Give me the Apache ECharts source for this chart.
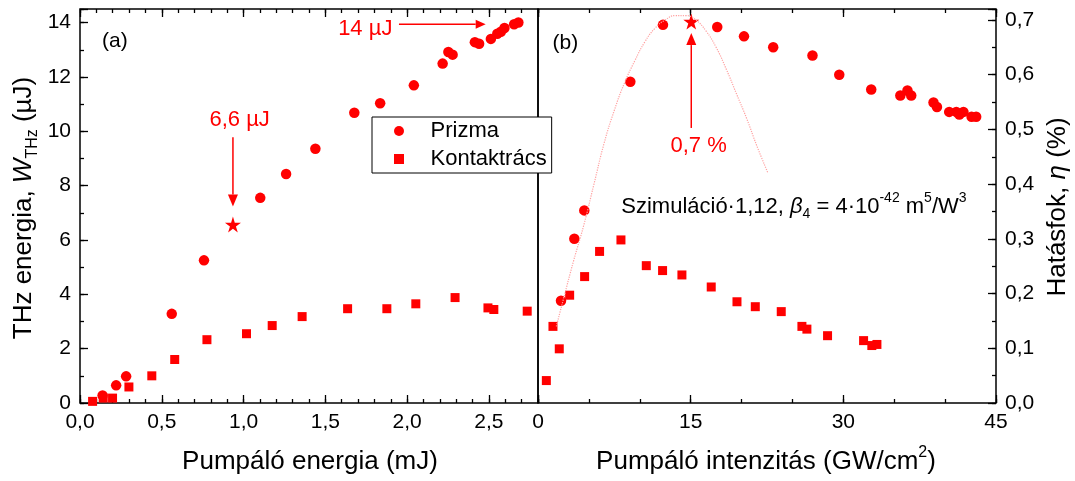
<!DOCTYPE html>
<html lang="hu">
<head>
<meta charset="UTF-8">
<title>THz energia és hatásfok</title>
<style>
  html, body { margin: 0; padding: 0; background: #fff; }
  #chart { width: 1075px; height: 481px; }
</style>
</head>
<body>
<div id="chart"></div>
<script src="https://cdn.jsdelivr.net/npm/echarts@6/dist/echarts.min.js"></script>
<script>
  // (a) pumpáló energia (mJ) -> THz energia (µJ)
  const prizmaEnergy = [0.138, 0.221, 0.282, 0.561, 0.758, 1.102, 1.26, 1.439, 1.677, 1.835, 2.041, 2.217, 2.252, 2.278, 2.414, 2.44, 2.512, 2.551, 2.573, 2.595, 2.654, 2.68];
  const prizmaTHz    = [0.28, 0.65, 0.98, 3.28, 5.25, 7.55, 8.43, 9.36, 10.68, 11.03, 11.69, 12.49, 12.92, 12.82, 13.28, 13.22, 13.4, 13.59, 13.66, 13.8, 13.94, 14.0];
  const kontaktEnergy = [0.077, 0.142, 0.199, 0.299, 0.439, 0.579, 0.776, 1.018, 1.175, 1.358, 1.636, 1.876, 2.053, 2.293, 2.494, 2.53, 2.734];
  const kontaktTHz    = [0.06, 0.18, 0.18, 0.59, 1.0, 1.6, 2.33, 2.55, 2.85, 3.18, 3.47, 3.47, 3.65, 3.88, 3.5, 3.44, 3.38];
  const starA = [0.935, 6.57];

  // (b) pumpáló intenzitás (GW/cm2) -> hatásfok (%)
  const prizmaInt = [2.26, 3.57, 4.55, 9.07, 12.28, 17.61, 20.24, 23.11, 26.97, 29.6, 32.74, 35.6, 36.3, 36.67, 38.86, 39.2, 40.4, 41.1, 41.4, 41.8, 42.6, 43.05];
  const prizmaEta = [0.187, 0.300, 0.352, 0.587, 0.691, 0.687, 0.670, 0.650, 0.635, 0.600, 0.573, 0.562, 0.571, 0.562, 0.549, 0.541, 0.532, 0.532, 0.527, 0.532, 0.523, 0.523];
  const kontaktInt = [0.82, 1.47, 2.09, 3.11, 4.58, 6.05, 8.15, 10.64, 12.24, 14.14, 17.02, 19.55, 21.35, 23.9, 25.93, 26.42, 28.45, 31.99, 32.8, 33.3];
  const kontaktEta = [0.041, 0.140, 0.099, 0.197, 0.231, 0.277, 0.298, 0.251, 0.242, 0.234, 0.212, 0.185, 0.176, 0.167, 0.140, 0.135, 0.123, 0.114, 0.105, 0.107];
  const starB = [15.06, 0.697];

  // szimuláció (pontozott görbe)
  const simInt = [1.8, 2.5, 3.5, 4.5, 5.5, 6.5, 7.5, 8.5, 9.5, 10.5, 11.5, 12.5, 13.5, 14.5, 15.5, 16.5, 17.5, 18.5, 19.5, 20.5, 21.5, 22.6];
  const simEta = [0.14, 0.19, 0.26, 0.325, 0.40, 0.475, 0.535, 0.585, 0.625, 0.66, 0.685, 0.70, 0.708, 0.708, 0.70, 0.68, 0.65, 0.61, 0.565, 0.52, 0.47, 0.42];

  const FONT = 'Liberation Sans, Arial, sans-serif';
  const RED = '#ff0000';
  const STAR = 'path://M50,0 L61,35 L98,35 L68,57 L79,91 L50,70 L21,91 L32,57 L2,35 L39,35 Z';
  const SQUARE = 'path://M0,0 L10,0 L10,10 L0,10 Z';

  const zip = (a, b) => a.map((v, i) => [v, b[i]]);
  const isMult = (v, s) => Math.abs(v / s - Math.round(v / s)) < 1e-6;

  function axis(grid, pos, min, max, step, tickLen, fmt) {
    return {
      type: 'value', gridIndex: grid, position: pos, min: min, max: max, interval: step,
      axisLine: { show: false, onZero: false },
      splitLine: { show: false },
      axisTick: { show: true, inside: true, length: tickLen, lineStyle: { color: '#000', width: 1.3 } },
      axisLabel: fmt ? { show: true, formatter: fmt, color: '#000', fontSize: 21, fontFamily: FONT, margin: 9 }
                     : { show: false }
    };
  }

  const chart = echarts.init(document.getElementById('chart'));

  const dot = { color: RED, opacity: 1 };

  chart.setOption({
    animation: false,
    backgroundColor: '#fff',
    grid: [
      { left: 80, top: 9, width: 458, height: 394, show: true, borderColor: '#000', borderWidth: 1.5, backgroundColor: 'transparent' },
      { left: 538, top: 9, width: 458, height: 394, show: true, borderColor: '#000', borderWidth: 1.5, backgroundColor: 'transparent' }
    ],
    xAxis: [
      axis(0, 'bottom', 0, 2.8, 0.5, 8, v => isMult(v, 0.5) ? v.toFixed(1).replace('.', ',') : ''),
      axis(0, 'bottom', 0, 2.8, 0.1, 4),
      axis(0, 'top', 0, 2.8, 0.5, 8),
      axis(0, 'top', 0, 2.8, 0.1, 4),
      axis(1, 'bottom', 0, 45, 15, 8, v => String(Math.round(v))),
      axis(1, 'bottom', 0, 45, 5, 4),
      axis(1, 'top', 0, 45, 15, 8),
      axis(1, 'top', 0, 45, 5, 4)
    ],
    yAxis: [
      axis(0, 'left', 0, 14.5, 2, 8, v => isMult(v, 2) ? String(Math.round(v)) : ''),
      axis(0, 'left', 0, 14.5, 1, 4),
      axis(1, 'right', 0, 0.72, 0.1, 8, v => isMult(v, 0.1) ? v.toFixed(1).replace('.', ',') : ''),
      axis(1, 'right', 0, 0.72, 0.05, 4)
    ],
    legend: {
      data: [{ name: 'Prizma', icon: 'circle' }, { name: 'Kontaktrács', icon: SQUARE }],
      orient: 'vertical', left: 372, top: 117,
      itemWidth: 11, itemHeight: 10, itemGap: 6,
      padding: [3, 5, 3, 22],
      symbolKeepAspect: true,
      borderColor: '#000', borderWidth: 1, backgroundColor: '#fff',
      selectedMode: false,
      itemStyle: { opacity: 1 },
      textStyle: { color: '#000', fontSize: 22, fontFamily: FONT, lineHeight: 22, padding: [0, 0, 0, 21] }
    },
    series: [
      { name: 'Prizma', type: 'scatter', xAxisIndex: 0, yAxisIndex: 0, symbol: 'circle', symbolSize: 10.5,
        itemStyle: dot, data: zip(prizmaEnergy, prizmaTHz) },
      { name: 'Kontaktrács', type: 'scatter', xAxisIndex: 0, yAxisIndex: 0, symbol: 'rect', symbolSize: 9,
        itemStyle: dot, data: zip(kontaktEnergy, kontaktTHz) },
      { name: 'max_a', type: 'scatter', xAxisIndex: 0, yAxisIndex: 0, symbol: STAR, symbolSize: 16,
        itemStyle: dot, data: [starA] },
      { name: 'Szimuláció', type: 'line', xAxisIndex: 4, yAxisIndex: 2, smooth: true, showSymbol: false,
        lineStyle: { color: '#ffa0a0', width: 1.2, type: 'dotted' }, data: zip(simInt, simEta) },
      { name: 'Prizma', type: 'scatter', xAxisIndex: 4, yAxisIndex: 2, symbol: 'circle', symbolSize: 10.5,
        itemStyle: dot, data: zip(prizmaInt, prizmaEta) },
      { name: 'Kontaktrács', type: 'scatter', xAxisIndex: 4, yAxisIndex: 2, symbol: 'rect', symbolSize: 9,
        itemStyle: dot, data: zip(kontaktInt, kontaktEta) },
      { name: 'max_b', type: 'scatter', xAxisIndex: 4, yAxisIndex: 2, symbol: STAR, symbolSize: 16,
        itemStyle: dot, data: [starB] }
    ]
  });

  // feliratok, nyilak (adat koordinátákban)
  const pa = p => chart.convertToPixel({ xAxisIndex: 0, yAxisIndex: 0 }, p);
  const pb = p => chart.convertToPixel({ xAxisIndex: 4, yAxisIndex: 2 }, p);

  function arrow(p0, p1, headLen, headW) {
    const dx = p1[0] - p0[0], dy = p1[1] - p0[1];
    const L = Math.hypot(dx, dy), ux = dx / L, uy = dy / L;
    const bx = p1[0] - ux * headLen, by = p1[1] - uy * headLen;
    return [
      { type: 'line', shape: { x1: p0[0], y1: p0[1], x2: bx, y2: by }, style: { stroke: RED, lineWidth: 1.5 } },
      { type: 'polygon', shape: { points: [[p1[0], p1[1]], [bx - uy * headW / 2, by + ux * headW / 2], [bx + uy * headW / 2, by - ux * headW / 2]] },
        style: { fill: RED } }
    ];
  }

  function txt(p, text, opts) {
    const o = opts || {};
    return {
      type: 'text', x: p[0], y: p[1], rotation: o.rotation || 0,
      style: {
        text: text, fill: o.color || '#000', fontSize: o.size || 22, fontFamily: FONT,
        align: o.align || 'center', textAlign: o.align || 'center',
        verticalAlign: 'middle', textVerticalAlign: 'middle',
        rich: o.rich
      }
    };
  }

  const richName = {
    n: { fontSize: 26, fontFamily: FONT, fill: '#000', lineHeight: 34 },
    i: { fontSize: 26, fontFamily: FONT, fill: '#000', fontStyle: 'italic', lineHeight: 34 },
    s: { fontSize: 16, fontFamily: FONT, fill: '#000', lineHeight: 16, verticalAlign: 'bottom' },
    p: { fontSize: 16, fontFamily: FONT, fill: '#000', lineHeight: 16, verticalAlign: 'top' }
  };
  const richSim = {
    n: { fontSize: 22, fontFamily: FONT, fill: '#000', lineHeight: 30 },
    i: { fontSize: 22, fontFamily: FONT, fill: '#000', fontStyle: 'italic', lineHeight: 30 },
    s: { fontSize: 14, fontFamily: FONT, fill: '#000', lineHeight: 14, verticalAlign: 'bottom' },
    p: { fontSize: 14, fontFamily: FONT, fill: '#000', lineHeight: 14, verticalAlign: 'top' }
  };

  const graphic = [].concat(
    arrow(pa([1.95, 13.94]), pa([2.48, 13.94]), 10, 9),
    arrow(pa([0.935, 9.78]), pa([0.935, 7.23]), 12, 10),
    arrow(pb([15.06, 0.5026]), pb([15.06, 0.676]), 12, 10),
    [
      txt(pa([1.744, 13.78]), '14 µJ', { color: RED }),
      txt(pa([0.976, 10.41]), '6,6 µJ', { color: RED }),
      txt(pb([15.78, 0.469]), '0,7 %', { color: RED }),
      txt(pa([0.213, 13.32]), '(a)', { size: 21 }),
      txt(pb([2.69, 0.658]), '(b)', { size: 21 }),
      txt(pb([8.18, 0.359]), '{n|Szimuláció·1,12, }{i|β}{s|4}{n| = 4·10}{p|-42}{n| m}{p|5}{n|/W}{p|3}', { align: 'left', rich: richSim }),
      txt([310, 462], '{n|Pumpáló energia (mJ)}', { rich: richName }),
      txt([766, 462], '{n|Pumpáló intenzitás (GW/cm}{p|2}{n|)}', { rich: richName }),
      txt([24, 208], '{n|THz energia, }{i|W}{s|THz}{n| (µJ)}', { rich: richName, rotation: Math.PI / 2 }),
      txt([1058, 207], '{n|Hatásfok, }{i|η}{n| (%)}', { rich: richName, rotation: Math.PI / 2 })
    ]
  );

  chart.setOption({ graphic: graphic });
</script>
</body>
</html>
